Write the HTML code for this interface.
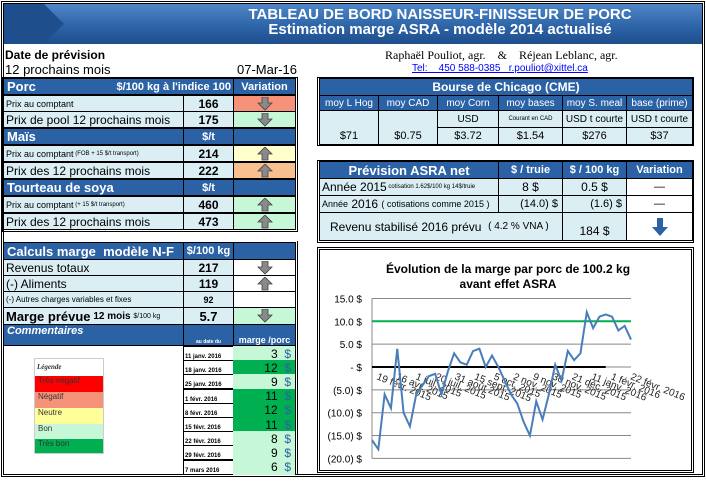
<!DOCTYPE html>
<html><head><meta charset="utf-8">
<style>
body{margin:0;width:706px;height:481px;background:#fff;font-family:"Liberation Sans",sans-serif;position:relative;overflow:hidden}
.a{position:absolute;box-sizing:border-box}
.c{position:absolute;box-sizing:border-box;border:1px solid #000;display:flex;align-items:center;white-space:nowrap;overflow:hidden}
.h{background:#2B62A6;color:#fff;font-weight:bold}
.l{background:#DAEEF3}
.w{background:#fff}
.ctr{justify-content:center}
.r{justify-content:flex-end;padding-right:4px}
.b{font-weight:bold}
.arr svg{display:block}
</style></head><body>
<div class="a" style="left:1px;top:1px;width:704px;height:476px;border:3px double #000"></div>
<div class="a" style="left:4px;top:4px;width:698px;height:40px;background:linear-gradient(#4F86C6,#2B62A6 60%,#1F4E8C)"></div>
<svg class="a" style="left:4px;top:4px" width="60" height="40"><polygon points="0,0 40,0 60,20 40,40 0,40" fill="#1F4E8C"/></svg>
<div class="a" style="left:150px;top:7px;width:580px;text-align:center;color:#fff;font-weight:bold;font-size:15px;line-height:15px">TABLEAU DE BORD NAISSEUR-FINISSEUR DE PORC<br>Estimation marge ASRA - modèle 2014 actualisé</div>
<div class="a b" style="left:5px;top:48px;font-size:12px">Date de prévision</div>
<div class="a" style="left:5px;top:62px;font-size:13px">12 prochains mois</div>
<div class="a" style="left:237px;top:62px;font-size:13px">07-Mar-16</div>
<div class="a" style="left:385px;top:48px;font-family:'Liberation Serif',serif;font-size:12px">Raphaël Pouliot, agr. &nbsp;&nbsp; &amp; &nbsp;&nbsp; Réjean Leblanc, agr.</div>
<div class="a" style="left:412px;top:63px;font-size:10px;color:#00f;text-decoration:underline">Tel: &nbsp;&nbsp; 450 588-0385 &nbsp; r.pouliot@xittel.ca</div>

<div class="a" style="left:2px;top:77px;width:296px;height:155px;border:1px solid #000"></div>
<div class="c h" style="left:3px;top:78px;width:231px;height:17px;font-size:13px;padding-left:3px">Porc<span style="font-size:11px;margin-left:auto;padding-right:2px">$/100 kg à l'indice 100</span></div>
<div class="c h ctr" style="left:233px;top:78px;width:63px;height:17px;font-size:11px">Variation</div>
<div class="c l" style="left:3px;top:95px;width:181px;height:17px;font-size:9px;padding-left:2px">Prix au comptant</div>
<div class="c l ctr b" style="left:183px;top:95px;width:51px;height:17px;font-size:12px">166</div>
<div class="c ctr arr down" style="left:233px;top:95px;width:63px;height:17px;background:#F6927A"></div>
<div class="c l" style="left:3px;top:111px;width:181px;height:17px;font-size:12px;padding-left:2px">Prix de pool 12 prochains mois</div>
<div class="c l ctr b" style="left:183px;top:111px;width:51px;height:17px;font-size:12px">175</div>
<div class="c ctr arr down" style="left:233px;top:111px;width:63px;height:17px;background:#C6F7D6"></div>
<div class="c h" style="left:3px;top:128px;width:181px;height:17px;font-size:13px;padding-left:3px">Maïs</div>
<div class="c h ctr" style="left:183px;top:128px;width:51px;height:17px;font-size:11px">$/t</div>
<div class="c h" style="left:233px;top:128px;width:63px;height:17px"></div>
<div class="c l" style="left:3px;top:145px;width:181px;height:17px;font-size:9px;padding-left:2px">Prix au comptant <span style="font-size:6px">&nbsp;(FOB + 15 $/t transport)</span></div>
<div class="c l ctr b" style="left:183px;top:145px;width:51px;height:17px;font-size:12px">214</div>
<div class="c ctr arr up" style="left:233px;top:145px;width:63px;height:17px;background:#FFFFCC"></div>
<div class="c l" style="left:3px;top:162px;width:181px;height:17px;font-size:12px;padding-left:2px">Prix des 12 prochains mois</div>
<div class="c l ctr b" style="left:183px;top:162px;width:51px;height:17px;font-size:12px">222</div>
<div class="c ctr arr up" style="left:233px;top:162px;width:63px;height:17px;background:#F8BF8F"></div>
<div class="c h" style="left:3px;top:179px;width:181px;height:17px;font-size:13px;padding-left:3px">Tourteau de soya</div>
<div class="c h ctr" style="left:183px;top:179px;width:51px;height:17px;font-size:11px">$/t</div>
<div class="c h" style="left:233px;top:179px;width:63px;height:17px"></div>
<div class="c l" style="left:3px;top:196px;width:181px;height:17px;font-size:9px;padding-left:2px">Prix au comptant <span style="font-size:6px">&nbsp;(+ 15 $/t transport)</span></div>
<div class="c l ctr b" style="left:183px;top:196px;width:51px;height:17px;font-size:12px">460</div>
<div class="c ctr arr up" style="left:233px;top:196px;width:63px;height:17px;background:#C6F7D6"></div>
<div class="c l" style="left:3px;top:213px;width:181px;height:17px;font-size:12px;padding-left:2px">Prix des 12 prochains mois</div>
<div class="c l ctr b" style="left:183px;top:213px;width:51px;height:17px;font-size:12px">473</div>
<div class="c ctr arr up" style="left:233px;top:213px;width:63px;height:17px;background:#C6F7D6"></div>

<div class="a" style="left:317px;top:77px;width:377px;height:69px;border:1px solid #000"></div>
<div class="c h ctr" style="left:319px;top:78px;width:374px;height:18px;font-size:12px">Bourse de Chicago (CME)</div>
<div class="c h ctr" style="left:319px;top:95px;width:60px;height:16px;font-size:10px;font-weight:normal">moy L Hog</div>
<div class="c h ctr" style="left:378px;top:95px;width:60px;height:16px;font-size:10px;font-weight:normal">moy CAD</div>
<div class="c h ctr" style="left:437px;top:95px;width:62px;height:16px;font-size:10px;font-weight:normal">moy Corn</div>
<div class="c h ctr" style="left:498px;top:95px;width:65px;height:16px;font-size:10px;font-weight:normal">moy bases</div>
<div class="c h ctr" style="left:562px;top:95px;width:65px;height:16px;font-size:10px;font-weight:normal">moy S. meal</div>
<div class="c h ctr" style="left:626px;top:95px;width:67px;height:16px;font-size:10px;font-weight:normal">base (prime)</div>
<div class="c l ctr" style="left:319px;top:110px;width:60px;height:35px;font-size:11px;align-items:flex-end;padding-bottom:2px">$71</div>
<div class="c l ctr" style="left:378px;top:110px;width:60px;height:35px;font-size:11px;align-items:flex-end;padding-bottom:2px">$0.75</div>
<div class="c l ctr" style="left:437px;top:110px;width:62px;height:18px;font-size:10px">USD</div>
<div class="c l ctr" style="left:498px;top:110px;width:65px;height:18px;font-size:6px">Courant en CAD</div>
<div class="c l ctr" style="left:562px;top:110px;width:65px;height:18px;font-size:10px">USD t courte</div>
<div class="c l ctr" style="left:626px;top:110px;width:67px;height:18px;font-size:10px">USD t courte</div>
<div class="c l ctr" style="left:437px;top:127px;width:62px;height:18px;font-size:11px">$3.72</div>
<div class="c l ctr" style="left:498px;top:127px;width:65px;height:18px;font-size:11px">$1.54</div>
<div class="c l ctr" style="left:562px;top:127px;width:65px;height:18px;font-size:11px">$276</div>
<div class="c l ctr" style="left:626px;top:127px;width:67px;height:18px;font-size:11px">$37</div>

<div class="a" style="left:317px;top:160px;width:377px;height:83px;border:1px solid #000"></div>
<div class="c h ctr" style="left:319px;top:161px;width:180px;height:18px;font-size:13px">Prévision ASRA net</div>
<div class="c h ctr" style="left:498px;top:161px;width:65px;height:18px;font-size:11px">$ / truie</div>
<div class="c h ctr" style="left:562px;top:161px;width:65px;height:18px;font-size:11px">$ / 100 kg</div>
<div class="c h ctr" style="left:626px;top:161px;width:67px;height:18px;font-size:11px">Variation</div>
<div class="c l" style="left:319px;top:178px;width:180px;height:18px;font-size:12px;padding-left:2px">Année 2015 <span style="font-size:6px">&nbsp;cotisation 1.62$/100 kg 14$/truie</span></div>
<div class="c l ctr" style="left:498px;top:178px;width:65px;height:18px;font-size:12px">8 $</div>
<div class="c l ctr" style="left:562px;top:178px;width:65px;height:18px;font-size:12px">0.5 $</div>
<div class="c w ctr" style="left:626px;top:178px;width:67px;height:18px;font-size:11px">—</div>
<div class="c l" style="left:319px;top:195px;width:180px;height:18px;font-size:9px;padding-left:2px">Année <span style="font-size:12px">&nbsp;2016&nbsp;</span> ( cotisations comme 2015 )</div>
<div class="c l r" style="left:498px;top:195px;width:65px;height:18px;font-size:11px">(14.0) $</div>
<div class="c l r" style="left:562px;top:195px;width:65px;height:18px;font-size:11px">(1.6) $</div>
<div class="c w ctr" style="left:626px;top:195px;width:67px;height:18px;font-size:11px">—</div>
<div class="c l" style="left:319px;top:212px;width:244px;height:29px;font-size:12px;padding-left:10px">Revenu stabilisé 2016 prévu &nbsp;<span style="font-size:10px">( 4.2 % VNA )</span></div>
<div class="c l ctr" style="left:562px;top:212px;width:65px;height:29px;font-size:12px;align-items:flex-end;padding-bottom:2px">184 $</div>
<div class="c w ctr" style="left:626px;top:212px;width:67px;height:29px"><svg width="16" height="18"><polygon points="5,0 11,0 11,9 16,9 8,18 0,9 5,9" fill="#2B62A6"/></svg></div>

<div class="a" style="left:2px;top:241px;width:296px;height:233px;border-right:1px solid #000"></div>
<div class="c h" style="left:3px;top:242px;width:181px;height:18px;font-size:13px;padding-left:3px">Calculs marge &nbsp;modèle N-F</div>
<div class="c h ctr" style="left:183px;top:242px;width:51px;height:18px;font-size:11px">$/100 kg</div>
<div class="c h" style="left:233px;top:242px;width:63px;height:18px"></div>
<div class="c l" style="left:3px;top:259px;width:181px;height:17px;font-size:12px;padding-left:2px">Revenus totaux</div>
<div class="c l ctr b" style="left:183px;top:259px;width:51px;height:17px;font-size:12px">217</div>
<div class="c w ctr arr down" style="left:233px;top:259px;width:63px;height:17px"></div>
<div class="c l" style="left:3px;top:275px;width:181px;height:17px;font-size:12px;padding-left:2px">(-) Aliments</div>
<div class="c l ctr b" style="left:183px;top:275px;width:51px;height:17px;font-size:12px">119</div>
<div class="c w ctr arr up" style="left:233px;top:275px;width:63px;height:17px"></div>
<div class="c l" style="left:3px;top:291px;width:181px;height:17px;font-size:8px;padding-left:2px">(-) Autres charges variables et fixes</div>
<div class="c l ctr b" style="left:183px;top:291px;width:51px;height:17px;font-size:9px">92</div>
<div class="c w" style="left:233px;top:291px;width:63px;height:17px"></div>
<div class="c l b" style="left:3px;top:307px;width:181px;height:18px;font-size:13px;padding-left:2px">Marge prévue <span style="font-size:10px">&nbsp;12 mois&nbsp; </span><span style="font-size:7px;font-weight:normal">$/100 kg</span></div>
<div class="c l ctr b" style="left:183px;top:307px;width:51px;height:18px;font-size:13px">5.7</div>
<div class="c ctr arr down" style="left:233px;top:307px;width:63px;height:18px;background:#C6F7D6"></div>
<div class="c h" style="left:3px;top:324px;width:181px;height:22px;font-size:11px;font-style:italic;padding-left:3px;align-items:flex-start">Commentaires</div>
<div class="c h ctr" style="left:183px;top:324px;width:51px;height:22px;font-size:5px;align-items:flex-end">au date du</div>
<div class="c h ctr" style="left:233px;top:324px;width:63px;height:22px;font-size:9px;align-items:flex-end">marge /porc</div>
<div id="hist"></div>

<div class="a" style="left:34px;top:358px;width:70px;height:96px;border:1px solid #ccc;font-size:8px;color:#333">
<div style="height:17px;line-height:17px;font-style:italic;font-weight:bold;font-family:'Liberation Serif',serif;font-size:7px;padding-left:2px">Légende</div>
<div style="height:16px;background:#FF0000;padding-left:3px">Très négatif</div>
<div style="height:16px;background:#F6927A;padding-left:3px">Négatif</div>
<div style="height:16px;background:#FFFF99;padding-left:3px">Neutre</div>
<div style="height:15px;background:#C6F7D6;padding-left:3px">Bon</div>
<div style="height:14px;background:#00B050;padding-left:3px">Très bon</div>
</div>

<div class="a" style="left:317px;top:247px;width:377px;height:226px;border:3px double #000"></div>
<svg class="a" id="chart" style="left:318px;top:248px" width="375" height="224"></svg>

<script>
document.querySelectorAll('.arr').forEach(e=>{
  const up=e.classList.contains('up');
  const pts=up?'5,13 11,13 11,7 15,7 8,0 1,7 5,7':'5,0 11,0 11,6 15,6 8,13 1,6 5,6';
  e.innerHTML='<svg width="16" height="14"><polygon points="'+pts+'" fill="#8a8a8a" stroke="#444" stroke-width="0.8"/></svg>';
});
const histDates=['11 janv. 2016','18 janv. 2016','25 janv. 2016','1 févr. 2016','8 févr. 2016','15 févr. 2016','22 févr. 2016','29 févr. 2016','7 mars 2016'];
const histMargins=[3,12,9,11,12,11,8,9,6];
const hist=document.getElementById('hist');
histDates.forEach((d,i)=>{
  const y=346+i*14.2;
  const a=document.createElement('div');
  a.className='c w';
  
  
  a.style.cssText=`left:183px;top:${y}px;width:51px;height:15px;font-size:6px;font-weight:bold;padding-left:1px;align-items:flex-end`;
  a.textContent=d;hist.appendChild(a);
  const b=document.createElement('div');
  b.className='c r';
  
  
  const v=histMargins[i];
  b.style.cssText=`left:233px;top:${y}px;width:63px;height:15px;font-size:12px;border:none;border-right:1px solid #000;background:${v>=10?'#00B050':'#C6F7D6'}`;
  b.innerHTML=v+' &nbsp;<span style="color:#2B62A6">$</span>';hist.appendChild(b);
});

const yTicks=[15,10,5,0,-5,-10,-15,-20];
const yTickLabels=['15.0 $','10.0 $','5.0 $','-   $','(5.0) $','(10.0) $','(15.0) $','(20.0) $'];
const xLabels=['19 févr. 2015','16 avr. 2015','1 juil. 2015','20 juil. 2015','31 août 2015','15 sept. 2015','5 oct. 2015','2 nov. 2015','9 nov. 2015','30 nov. 2015','21 déc. 2015','11 janv. 2016','1 févr. 2016','22 févr. 2016'];
const margins=[-16,-18,-6,-9,4,-10,-13,-6,-4,-2,-1.5,-6,-1,3,1,0.5,3.5,4,0,2.5,0,-3,-6,-8,-12,-15,-7.5,-11.5,-6,0.5,-3,3.5,1.5,3,12,8.5,11,11.5,11,8,9,6];
const target=10;
const NS='http://www.w3.org/2000/svg';
const svg=document.getElementById('chart');
const X0=54,X1=313,yv=v=>119-v*4.57;
const xi=i=>X0+i*(X1-X0)/(margins.length-1);
function el(t,at,txt){const e=document.createElementNS(NS,t);for(const k in at)e.setAttribute(k,at[k]);if(txt!=null)e.textContent=txt;svg.appendChild(e);return e;}
let t=el('text',{x:190,y:25,'text-anchor':'middle','font-size':12,'font-weight':'bold','font-family':'Liberation Sans'},'Évolution de la marge par porc de 100.2 kg');


t=el('text',{x:190,y:40,'text-anchor':'middle','font-size':12,'font-weight':'bold','font-family':'Liberation Sans'},'avant effet ASRA');


yTicks.forEach((v,i)=>{
  const g=el('line',{x1:X0,x2:X1,y1:yv(v),y2:yv(v),stroke:'#888','stroke-width':1});
  
  
  const l=el('text',{x:44,y:yv(v)+4,'text-anchor':'end','font-size':10,'font-family':'Liberation Sans'},yTickLabels[i]);
  
  
});
let ax=el('line',{x1:X0,x2:X0,y1:yv(15),y2:yv(-20),stroke:'#888'});


let tl=el('line',{x1:X0,x2:X1,y1:yv(target),y2:yv(target),stroke:'#00B050','stroke-width':2});


let zl=el('line',{x1:X0,x2:xi(margins.length-5),y1:yv(0),y2:yv(0),stroke:'#000','stroke-width':2});


xLabels.forEach((s,i)=>{
  const x=X0+4+i*(X1-X0)/(xLabels.length-1)*0.98;
  const l=el('text',{x:x,y:yv(0)+12,'font-size':10,fill:'#222','font-family':'Liberation Sans',transform:`rotate(22 ${x} ${yv(0)+12})`},s);
  
  
});
let p=el('polyline',{points:margins.map((v,i)=>xi(i)+','+yv(v)).join(' '),fill:'none',stroke:'#4A7EBB','stroke-width':2});


</script>
</body></html>
